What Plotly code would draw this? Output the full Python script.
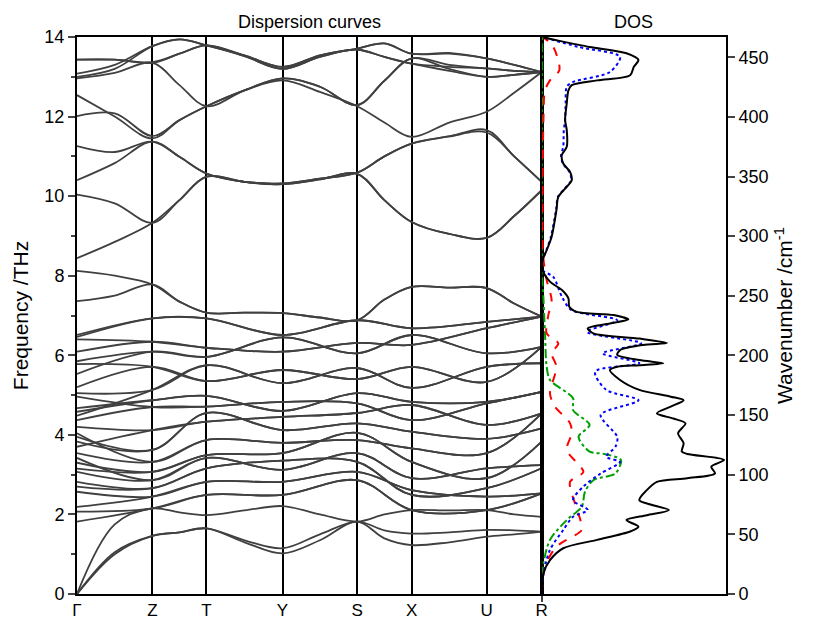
import plotly.graph_objects as go

# ---------------- path / labels ----------------
k_sym = [0, 75.4, 129.4, 205.4, 280.0, 334.4, 409.4, 464.4]
k_labels = ["Γ", "Z", "T", "Y", "S", "X", "U", "R"]
# symmetry points plus the mid point of every segment
k_fine = [0, 37.7, 75.4, 102.4, 129.4, 167.4, 205.4, 242.7, 280.0, 307.2, 334.4, 371.9, 409.4, 436.9, 464.4]

# ---------------- acoustic bands (THz) on k_fine ----------------
acoustic_bands = [
    [0, 1.00, 1.46, 1.55, 1.65, 1.30, 1.02, 1.35, 1.82, 1.40, 1.23, 1.30, 1.44, 1.50, 1.57],
    [0, 1.05, 1.46, 1.55, 1.65, 1.35, 1.15, 1.50, 1.82, 1.60, 1.52, 1.55, 1.61, 1.60, 1.57],
    [0, 1.75, 2.15, 2.05, 1.98, 2.10, 2.21, 2.00, 1.82, 2.00, 2.11, 2.10, 2.11, 2.00, 1.94],
]

# ---------------- high-frequency optical bands (THz) on k_fine ----------------
high_bands = [
    [13.43, 13.43, 13.35, 13.58, 13.79, 13.54, 13.25, 13.54, 13.71, 13.84, 13.58, 13.60, 13.46, 13.30, 13.12],
    [13.43, 13.43, 13.37, 13.58, 13.79, 13.52, 13.20, 13.50, 13.68, 13.50, 13.33, 13.25, 13.21, 13.15, 13.12],
    [13.08, 13.30, 13.77, 13.94, 13.79, 13.54, 13.25, 13.54, 13.71, 13.84, 13.58, 13.58, 13.46, 13.30, 13.12],
    [13.00, 13.20, 13.77, 13.94, 13.79, 13.52, 13.20, 13.50, 13.68, 13.50, 13.33, 13.15, 13.00, 13.05, 13.12],
    [12.96, 13.10, 13.35, 12.79, 12.26, 12.66, 12.96, 12.75, 12.29, 12.90, 13.46, 13.30, 13.21, 13.15, 13.12],
    [12.54, 12.00, 11.45, 11.91, 12.26, 12.66, 12.91, 12.62, 12.26, 11.85, 11.49, 11.85, 12.12, 12.60, 13.12],
    [12.01, 12.08, 11.51, 11.91, 12.26, 12.66, 12.96, 12.75, 12.29, 12.90, 13.46, 13.20, 13.00, 13.05, 13.12],
    [11.26, 11.11, 11.37, 10.99, 10.57, 10.36, 10.32, 10.44, 10.59, 11.00, 11.32, 11.50, 11.66, 11.00, 10.36],
    [10.40, 10.83, 11.37, 10.99, 10.57, 10.36, 10.30, 10.42, 10.56, 9.90, 9.35, 9.05, 8.95, 9.50, 10.15],
    [10.04, 9.82, 9.33, 9.90, 10.49, 10.36, 10.32, 10.44, 10.59, 11.00, 11.32, 11.50, 11.60, 11.00, 10.36],
    [8.44, 8.85, 9.33, 9.90, 10.49, 10.36, 10.30, 10.42, 10.56, 9.90, 9.35, 9.05, 8.95, 9.50, 10.15],
    [8.12, 8.00, 7.78, 7.35, 7.07, 7.07, 7.06, 6.95, 6.88, 7.40, 7.72, 7.70, 7.69, 7.30, 6.97],
    [7.36, 7.50, 7.78, 7.35, 7.07, 7.07, 7.06, 6.95, 6.88, 7.40, 7.72, 7.70, 7.69, 7.30, 6.97],
]

# ---------------- low/mid optical bands (THz) on k_sym: Γ Z T Y S X U R ----------------
low_bands = [
    [1.82, 2.15, 2.49, 2.49, 2.86, 2.11, 2.11, 2.53],
    [2.07, 2.15, 2.49, 2.49, 2.86, 2.11, 2.11, 2.53],
    [2.19, 2.45, 2.82, 2.82, 3.07, 2.61, 2.45, 2.53],
    [2.57, 2.45, 2.82, 2.82, 3.07, 2.61, 2.45, 2.53],
    [2.70, 2.66, 3.16, 3.35, 3.32, 2.49, 2.66, 3.16],
    [2.82, 2.66, 3.16, 3.35, 3.32, 2.49, 2.66, 3.16],
    [3.07, 2.86, 3.42, 3.12, 3.54, 2.91, 3.16, 3.24],
    [3.42, 2.86, 3.42, 3.12, 3.54, 2.91, 3.16, 3.24],
    [3.30, 3.07, 3.49, 3.54, 4.05, 3.32, 2.91, 3.83],
    [3.15, 3.07, 3.49, 3.54, 4.05, 3.32, 2.91, 3.83],
    [3.54, 3.32, 3.87, 3.80, 3.87, 3.66, 3.54, 4.54],
    [4.04, 3.32, 3.87, 3.80, 3.87, 3.66, 3.54, 4.54],
    [3.83, 3.62, 4.55, 4.12, 4.29, 4.08, 3.90, 4.16],
    [3.95, 3.62, 4.55, 4.12, 4.29, 4.08, 3.90, 4.16],
    [3.70, 4.12, 4.33, 4.45, 4.55, 4.75, 4.25, 4.54],
    [4.20, 4.12, 4.33, 4.45, 4.55, 4.75, 4.25, 4.54],
    [4.37, 4.70, 4.71, 4.83, 4.79, 4.37, 4.79, 5.08],
    [4.96, 4.70, 4.71, 4.83, 4.79, 4.37, 4.79, 5.08],
    [4.58, 4.87, 4.98, 4.60, 5.05, 4.83, 4.83, 5.08],
    [4.67, 4.87, 4.98, 4.60, 5.05, 4.83, 4.83, 5.08],
    [4.48, 5.13, 5.75, 5.30, 5.68, 5.18, 5.71, 5.80],
    [5.05, 5.13, 5.75, 5.30, 5.68, 5.18, 5.71, 5.80],
    [5.20, 5.71, 5.35, 5.63, 5.40, 5.71, 5.33, 6.21],
    [5.78, 5.71, 5.35, 5.63, 5.40, 5.71, 5.33, 6.21],
    [5.53, 6.09, 5.96, 6.45, 6.05, 6.51, 6.05, 6.21],
    [5.85, 6.09, 5.96, 6.45, 6.05, 6.51, 6.05, 6.21],
    [6.09, 6.34, 6.19, 6.09, 6.31, 6.26, 6.68, 6.97],
    [6.40, 6.34, 6.19, 6.09, 6.31, 6.26, 6.68, 6.97],
    [6.46, 6.93, 6.93, 6.51, 6.88, 6.68, 6.84, 6.97],
    [6.51, 6.93, 6.93, 6.51, 6.88, 6.68, 6.84, 6.97],
]

# ---------------- DOS (arb. units) ----------------
total_f = [0.0, 0.52, 0.85, 1.15, 1.36, 1.57, 1.69, 1.86, 1.98, 2.11, 2.36, 2.61, 2.82, 2.91, 3.03, 3.20,
           3.37, 3.52, 3.58, 3.79, 4.04, 4.29, 4.41, 4.54, 4.71, 4.87, 4.96, 5.13, 5.38, 5.63, 5.71, 5.75,
           5.80, 5.88, 6.01, 6.13, 6.26, 6.31, 6.42, 6.55, 6.68, 6.80, 6.90, 7.01, 7.09, 7.22, 7.43, 7.64,
           7.85, 8.14, 8.39, 8.64, 8.98, 9.65, 9.98, 10.19, 10.40, 10.61, 10.82, 11.03, 11.24, 11.66, 11.91,
           12.33, 12.66, 12.79, 12.91, 13.04, 13.25, 13.42, 13.59, 13.75, 13.92, 13.99]
total_d = [0.0, 0.01, 0.045, 0.117, 0.30, 0.48, 0.525, 0.46, 0.57, 0.69, 0.53, 0.57, 0.625, 0.79, 0.94, 0.92,
           0.99, 0.79, 0.76, 0.77, 0.74, 0.78, 0.715, 0.625, 0.70, 0.77, 0.70, 0.53, 0.425, 0.37, 0.41, 0.53,
           0.66, 0.53, 0.41, 0.425, 0.55, 0.68, 0.53, 0.28, 0.25, 0.37, 0.47, 0.39, 0.19, 0.15, 0.145, 0.11,
           0.045, 0.005, 0.005, 0.027, 0.054, 0.08, 0.09, 0.127, 0.163, 0.154, 0.117, 0.109, 0.136, 0.136, 0.127,
           0.136, 0.145, 0.163, 0.30, 0.48, 0.50, 0.525, 0.46, 0.26, 0.08, 0.01]

blue_f = [0.0, 0.52, 1.11, 1.61, 1.94, 2.11, 2.36, 2.70, 3.03, 3.32, 3.45, 3.70, 3.95, 4.50, 4.87, 5.13,
          5.59, 5.80, 6.05, 6.30, 6.59, 6.88, 7.14, 7.47, 7.97, 8.14, 8.39, 8.64, 8.98, 9.65, 9.98, 10.19,
          10.40, 10.61, 10.82, 11.03, 11.24, 11.66, 11.91, 12.33, 12.75, 12.87, 13.12, 13.50, 13.75, 13.99]
blue_d = [0.0, 0.01, 0.045, 0.117, 0.17, 0.25, 0.17, 0.226, 0.32, 0.425, 0.35, 0.40, 0.41, 0.32, 0.525, 0.35,
          0.29, 0.53, 0.33, 0.54, 0.245, 0.41, 0.16, 0.11, 0.063, 0.005, 0.005, 0.025, 0.05, 0.078, 0.088, 0.125,
          0.16, 0.15, 0.115, 0.105, 0.117, 0.12, 0.127, 0.13, 0.136, 0.17, 0.37, 0.425, 0.20, 0.01]

red_f = [0.0, 0.69, 1.19, 1.61, 1.86, 2.28, 2.82, 3.07, 3.62, 4.04, 4.29, 4.71, 5.04, 5.71, 6.05, 6.30,
         6.55, 7.01, 7.39, 7.89, 8.50, 10.0, 12.0, 12.66, 12.91, 13.17, 13.75, 13.99]
red_d = [0.0, 0.018, 0.08, 0.217, 0.21, 0.18, 0.154, 0.226, 0.136, 0.163, 0.154, 0.072, 0.045, 0.08, 0.054, 0.09,
         0.027, 0.036, 0.054, 0.027, 0.008, 0.005, 0.01, 0.018, 0.045, 0.096, 0.063, 0.01]

green_f = [0.0, 0.77, 1.36, 1.86, 2.19, 2.57, 2.86, 3.03, 3.37, 3.52, 3.58, 3.95, 4.25, 4.62, 4.92, 5.38,
           5.71, 6.55, 7.39, 8.0, 14.0]
green_d = [0.0, 0.01, 0.045, 0.136, 0.217, 0.235, 0.28, 0.40, 0.43, 0.34, 0.26, 0.20, 0.26, 0.17, 0.17, 0.045,
           0.027, 0.018, 0.01, 0.003, 0.003]

wavenumber_ticks = [0, 50, 100, 150, 200, 250, 300, 350, 400, 450]
THZ_TO_CM = 33.3564

FONT = "Liberation Sans, Arial, sans-serif"
BAND_COLOR = "#404040"

fig = go.Figure()

for band in acoustic_bands + high_bands:
    fig.add_trace(go.Scatter(x=k_fine, y=band, mode="lines", xaxis="x", yaxis="y",
                             line=dict(color=BAND_COLOR, width=1.8, shape="spline"),
                             showlegend=False, hoverinfo="skip"))
for band in low_bands:
    fig.add_trace(go.Scatter(x=k_sym, y=band, mode="lines", xaxis="x", yaxis="y",
                             line=dict(color=BAND_COLOR, width=1.8, shape="spline"),
                             showlegend=False, hoverinfo="skip"))

dos_styles = [
    (green_d, green_f, "#00a000", "dashdot"),
    (red_d, red_f, "#ff0000", "dash"),
    (blue_d, blue_f, "#0000ff", "dot"),
    (total_d, total_f, "#000000", "solid"),
]
for d, f, c, dash in dos_styles:
    fig.add_trace(go.Scatter(x=d, y=f, mode="lines", xaxis="x2", yaxis="y2",
                             line=dict(color=c, width=2, dash=dash, shape="spline", smoothing=0.8),
                             showlegend=False, hoverinfo="skip"))

split = 0.716
fig.update_layout(
    width=816, height=619,
    margin=dict(l=69, r=98, t=29, b=33),
    paper_bgcolor="white", plot_bgcolor="white",
    font=dict(family=FONT, color="black", size=18),
    xaxis=dict(domain=[0, split], range=[0, k_sym[-1]], tickvals=k_sym, ticktext=k_labels,
               showgrid=True, gridcolor="black", gridwidth=1.5, zeroline=False,
               showline=True, linecolor="black", linewidth=2, mirror=True, ticks="",
               tickfont=dict(size=17), automargin=False, anchor="y"),
    yaxis=dict(range=[0, 14], tick0=0, dtick=2, ticks="outside", ticklen=7, tickwidth=1.5,
               minor=dict(dtick=1, ticks="outside", ticklen=4, tickwidth=1.5),
               showgrid=False, zeroline=False, showline=True, linecolor="black", linewidth=2,
               mirror=True, tickfont=dict(size=18), automargin=False, anchor="x",
               title=dict(text="Frequency /THz", font=dict(size=21), standoff=10)),
    xaxis2=dict(domain=[split, 1], range=[0, 1.0], tickvals=[0], showticklabels=False,
                ticks="outside", ticklen=6, tickwidth=1.5,
                showgrid=False, zeroline=False, showline=True, linecolor="black", linewidth=2,
                mirror=True, automargin=False, anchor="y2"),
    yaxis2=dict(range=[0, 14], side="right", anchor="x2",
                tickvals=[w / THZ_TO_CM for w in wavenumber_ticks],
                ticktext=[str(w) for w in wavenumber_ticks],
                ticks="outside", ticklen=7, tickwidth=1.5, showgrid=False, zeroline=False,
                showline=True, linecolor="black", linewidth=2, mirror=True,
                tickfont=dict(size=18), automargin=False,
                title=dict(text="Wavenumber /cm<sup>-1</sup>", font=dict(size=21), standoff=10)),
    annotations=[
        dict(text="Dispersion curves", x=split / 2, y=1, xref="paper", yref="paper",
             xanchor="center", yanchor="bottom", yshift=3, showarrow=False, font=dict(size=18)),
        dict(text="DOS", x=(split + 1) / 2, y=1, xref="paper", yref="paper",
             xanchor="center", yanchor="bottom", yshift=3, showarrow=False, font=dict(size=18)),
    ],
)

fig.write_html("out.html")
